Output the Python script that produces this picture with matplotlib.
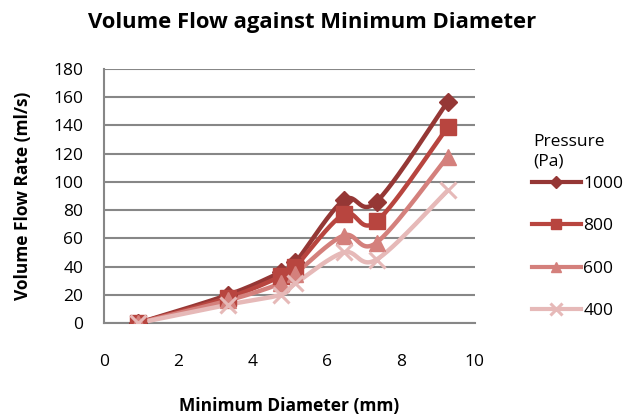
import numpy as np
import matplotlib
matplotlib.use("Agg")
import matplotlib.pyplot as plt
from matplotlib.lines import Line2D

plt.rcParams['font.family'] = ['Open Sans', 'DejaVu Sans']

# minimum diameter (mm) and volume flow rate (ml/s) for each pressure
diameter = [0.92, 3.35, 4.76, 5.16, 6.46, 7.35, 9.27]
flow_1000 = [0, 20, 36, 43, 87, 86, 157]
flow_800 = [0, 18, 33, 40, 77, 72, 139]
flow_600 = [0, 16, 28, 35, 62, 57, 118]
flow_400 = [0, 13, 20, 28, 50, 45, 94]
pressures = ['1000', '800', '600', '400']

series = [flow_1000, flow_800, flow_600, flow_400]
colors = ['#953735', '#B8453F', '#D4807C', '#E6B9B8']
markers = ['D', 's', '^', 'x']
msizes = [9, 11, 11, 12]


def smooth(x, y, n=30):
    # cubic bezier through the points, catmull-rom style control points
    p = np.column_stack([x, y]).astype(float)
    pts = np.vstack([p[0], p, p[-1]])
    out = []
    t = np.linspace(0, 1, n)[:, None]
    for i in range(1, len(pts) - 2):
        p0, p1, p2, p3 = pts[i - 1], pts[i], pts[i + 1], pts[i + 2]
        c1 = p1 + (p2 - p0) / 6
        c2 = p2 - (p3 - p1) / 6
        seg = ((1 - t) ** 3) * p1 + 3 * ((1 - t) ** 2) * t * c1 + 3 * (1 - t) * t ** 2 * c2 + t ** 3 * p2
        out.append(seg)
    out = np.vstack(out)
    return out[:, 0], out[:, 1]


fig = plt.figure(figsize=(6.29, 4.16), dpi=100)
ax = fig.add_axes([0.1653, 0.2236, 0.755 - 0.1653, 0.834 - 0.2236])

handles = []
for vals, c, m, ms, lab in zip(series, colors, markers, msizes, pressures):
    sx, sy = smooth(diameter, vals)
    ax.plot(sx, sy, color=c, lw=3.2, solid_capstyle='round', zorder=3)
    mew = 2.2 if m == 'x' else 1
    ax.plot(diameter, vals, ls='none', marker=m, ms=ms, color=c, mec=c, mew=mew, zorder=4)
    handles.append(Line2D([], [], color=c, lw=3, marker=m, ms=ms * 0.7, mec=c, mew=mew))

ax.set_xlim(0, 10)
ax.set_ylim(0, 180)
ax.set_xticks(range(0, 11, 2))
ax.set_yticks(range(0, 181, 20))
ax.grid(axis='y', color='#878787', lw=1.5)
ax.set_axisbelow(True)
for s in ['top', 'right']:
    ax.spines[s].set_visible(False)
for s in ['left', 'bottom']:
    ax.spines[s].set_color('#878787')
    ax.spines[s].set_linewidth(1.5)
ax.tick_params(length=0, labelsize=12.5)
ax.tick_params(axis='y', pad=15)
ax.tick_params(axis='x', pad=22)

ax.set_xlabel('Minimum Diameter (mm)', fontsize=12.5, fontweight='bold', labelpad=20)
ax.set_ylabel('Volume Flow Rate (ml/s)', fontsize=12.5, fontweight='bold', labelpad=15)
fig.text(0.497, 0.945, 'Volume Flow against Minimum Diameter', ha='center', va='center',
         fontsize=15.8, fontweight='bold')

fig.text(533 / 629, 1 - 134 / 416, 'Pressure\n(Pa)', ha='left', va='top', fontsize=12.5,
         linespacing=1.25)
fig.legend(handles, pressures, loc='center left', bbox_to_anchor=(0.832, 0.405),
           frameon=False, fontsize=12.5, labelspacing=1.5, handlelength=2.8,
           handletextpad=0.15, borderpad=0)

fig.savefig('out.png', dpi=100)
